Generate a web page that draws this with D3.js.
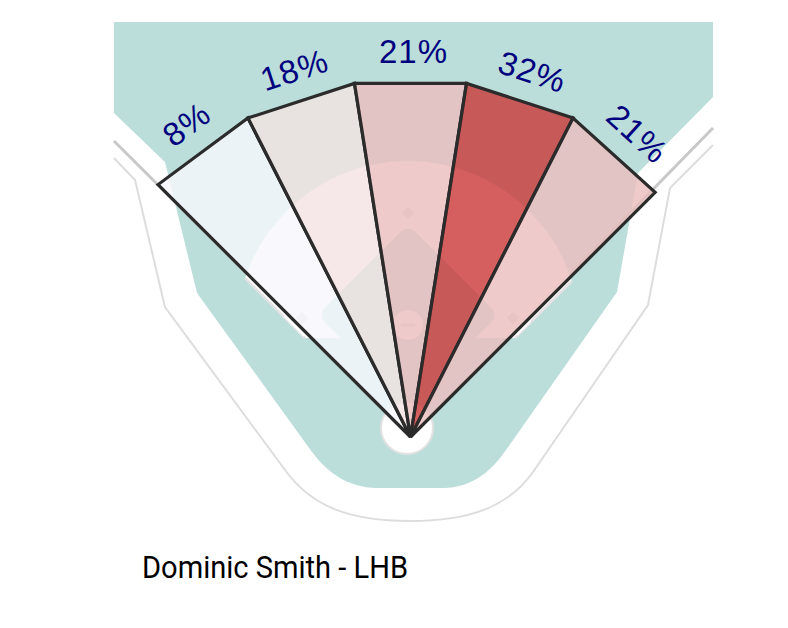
<!DOCTYPE html>
<html>
<head>
<meta charset="utf-8">
<script src="https://cdn.jsdelivr.net/npm/d3@7"></script>
<style>
  body { margin: 0; background: #fff; }
  svg { display: block; }
</style>
</head>
<body>
<script>
/* spray chart - share of balls in play by field zone */

var zones = ["Left", "Left-Center", "Center", "Right-Center", "Right"];
var sprayPct = [8, 18, 21, 32, 21];
var playerName = "Dominic Smith";
var batSide = "LHB";

var width = 788, height = 628;
var home = { x: 410.5, y: 437 };
// how far each wedge edge reaches from home plate
var edgeRadius = [357, 358, 358, 358, 358, 346];

var svg = d3.select("body").append("svg")
    .attr("width", width)
    .attr("height", height);

// ---- field in the background ----
var field = svg.append("g").attr("class", "field");

var grass = d3.path();
grass.moveTo(114, 22);
grass.lineTo(713, 22);
grass.lineTo(713, 97);
grass.lineTo(638, 173);
grass.lineTo(617, 292);
grass.lineTo(506, 450);
grass.quadraticCurveTo(481, 487, 445, 488);
grass.lineTo(375, 488);
grass.quadraticCurveTo(338, 487, 312, 452);
grass.lineTo(197, 293);
grass.lineTo(165, 162);
grass.lineTo(114, 113);
grass.closePath();

field.append("path")
    .attr("d", grass.toString())
    .attr("fill", "#bbdeda");

var wall = d3.path();
wall.moveTo(114, 158);
wall.lineTo(135, 180);
wall.lineTo(165, 307);
wall.lineTo(285, 470);
wall.bezierCurveTo(312, 507, 350, 521, 410, 521);
wall.bezierCurveTo(470, 521, 508, 507, 533, 472);
wall.lineTo(648, 305);
wall.lineTo(670, 188);
wall.lineTo(713, 145);

field.append("path")
    .attr("d", wall.toString())
    .attr("fill", "none")
    .attr("stroke", "#dddddd")
    .attr("stroke-width", 2);

// foul lines
field.append("line")
    .attr("x1", home.x).attr("y1", home.y)
    .attr("x2", 114).attr("y2", 141)
    .attr("stroke", "#c8c8c8").attr("stroke-width", 3);
field.append("line")
    .attr("x1", home.x).attr("y1", home.y)
    .attr("x2", 713).attr("y2", 128)
    .attr("stroke", "#c8c8c8").attr("stroke-width", 3);

// infield dirt
svg.append("defs").append("clipPath")
    .attr("id", "fair")
    .append("polygon")
    .attr("points", "410,443 110,143 110,0 720,0 720,133 515,338 305,338");

field.append("circle")
    .attr("cx", 408).attr("cy", 333).attr("r", 172)
    .attr("fill", "#ffffff")
    .attr("clip-path", "url(#fair)");

field.append("line")
    .attr("x1", 245).attr("y1", 278).attr("x2", 305).attr("y2", 338)
    .attr("stroke", "#e2e2e2").attr("stroke-width", 2.5);
field.append("line")
    .attr("x1", 572).attr("y1", 281).attr("x2", 515).attr("y2", 338)
    .attr("stroke", "#e2e2e2").attr("stroke-width", 2.5);

// infield grass
field.append("rect")
    .attr("x", -64).attr("y", -64)
    .attr("width", 128).attr("height", 128)
    .attr("rx", 10)
    .attr("fill", "#bbdeda")
    .attr("transform", "translate(408,315) rotate(45)");

var bases = [[302, 318], [513, 318]];
field.append("g")
    .attr("clip-path", "url(#fair)")
    .selectAll("circle")
    .data(bases)
    .enter()
    .append("circle")
    .attr("cx", function(d){ return d[0]; })
    .attr("cy", function(d){ return d[1]; })
    .attr("r", 18)
    .attr("fill", "#ffffff");

field.append("circle")
    .attr("cx", 408).attr("cy", 325).attr("r", 15)
    .attr("fill", "#ffffff");
field.append("rect")
    .attr("x", 401).attr("y", 323.5).attr("width", 14).attr("height", 3)
    .attr("fill", "#dedede");

field.selectAll("rect.base")
    .data([[408, 213], [302, 318], [513, 318]])
    .enter()
    .append("rect")
    .attr("class", "base")
    .attr("x", -4.5).attr("y", -4.5)
    .attr("width", 9).attr("height", 9)
    .attr("fill", "#e2e2e2")
    .attr("transform", function(d){ return "translate(" + d[0] + "," + d[1] + ") rotate(45)"; });

field.append("circle")
    .attr("cx", 407).attr("cy", 428).attr("r", 26)
    .attr("fill", "#ffffff")
    .attr("stroke", "#e2e2e2")
    .attr("stroke-width", 2);

// ---- wedges ----
var angle = d3.scaleLinear()
    .domain([0, sprayPct.length])
    .range([-45, 45]);

var color = d3.scaleLinear()
    .domain([0, 16, 32])
    .range(["#f4f6fe", "#fafafa", "#cb3737"]);

var edges = d3.range(sprayPct.length + 1).map(function(i){
    var a = angle(i) * Math.PI / 180;
    return [home.x + edgeRadius[i] * Math.sin(a), home.y - edgeRadius[i] * Math.cos(a)];
});

var wedgeData = sprayPct.map(function(v, i){
    return { zone: zones[i], value: v, p0: edges[i], p1: edges[i + 1] };
});

svg.append("g").selectAll("path")
    .data(wedgeData)
    .enter()
    .append("path")
    .attr("d", function(d){
        return "M" + home.x + "," + home.y + "L" + d.p0 + "L" + d.p1 + "Z";
    })
    .attr("fill", function(d){ return color(d.value); })
    .attr("fill-opacity", 0.8)
    .attr("stroke", "#2b2b2b")
    .attr("stroke-width", 3.2);

svg.append("g").selectAll("text")
    .data(wedgeData)
    .enter()
    .append("text")
    .attr("transform", function(d){
        var mx = (d.p0[0] + d.p1[0]) / 2, my = (d.p0[1] + d.p1[1]) / 2;
        var rot = Math.atan2(d.p1[1] - d.p0[1], d.p1[0] - d.p0[0]) * 180 / Math.PI;
        return "translate(" + mx + "," + my + ") rotate(" + rot + ")";
    })
    .attr("x", 3)
    .attr("y", -20)
    .attr("text-anchor", "middle")
    .attr("font-family", "'Liberation Sans', Arial, sans-serif")
    .attr("font-size", 33)
    .attr("letter-spacing", 1)
    .attr("fill", "#00007f")
    .text(function(d){ return d.value + "%"; });

svg.append("text")
    .attr("x", 142)
    .attr("y", 578)
    .attr("font-family", "Roboto, sans-serif")
    .attr("font-size", 31)
    .attr("textLength", 266)
    .attr("lengthAdjust", "spacingAndGlyphs")
    .attr("fill", "#000")
    .text(playerName + " - " + batSide);
</script>
</body>
</html>
